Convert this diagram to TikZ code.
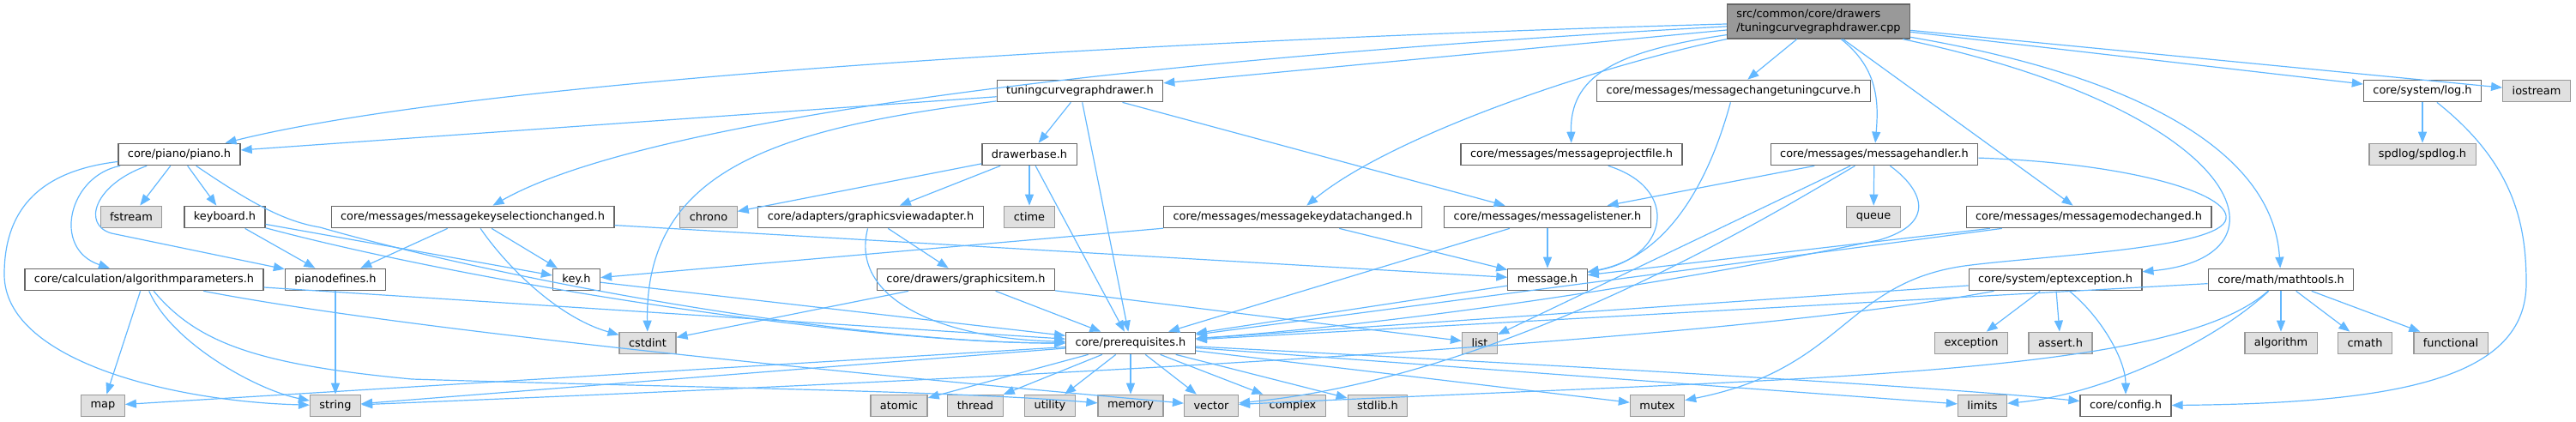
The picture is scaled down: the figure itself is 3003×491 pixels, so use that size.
\documentclass[tikz,border=0pt]{standalone}
\usepackage{fontspec}
\setmainfont{DejaVu Sans}
\usetikzlibrary{graphs, arrows.meta}
\definecolor{edgeblue}{HTML}{63B8FF}
\definecolor{boxgrey}{HTML}{E0E0E0}
\definecolor{darkline}{HTML}{666666}
\definecolor{lightline}{HTML}{999999}

\begin{document}
\begin{tikzpicture}[x=1pt, y=-1pt,
    font=\fontsize{12.9}{15.5}\selectfont,
    >={Triangle[length=13pt, width=10pt]},
    file/.style={draw=darkline, fill=white, line width=1.2pt, inner xsep=11pt, inner ysep=0pt, minimum height=25.5pt},
    sys/.style={file, draw=lightline, fill=boxgrey},
    root/.style={file, fill=lightline, align=left, minimum height=40pt},
    dep/.style={draw=edgeblue, line width=1.2pt, ->}]
\useasboundingbox (0,0) rectangle (3003,491);

\node[root] (main) at (2120,25) {src/common/core/drawers\\/tuningcurvegraphdrawer.cpp};

% first row
\node[file] (tcgdh) at (1259,106) {tuningcurvegraphdrawer.h};
\node[file] (mctc) at (2021,106) {core/messages/messagechangetuningcurve.h};
\node[file] (logh) at (2824,106) {core/system/log.h};
\node[sys] (iostream) at (2957,106) {iostream};

\node[file] (pianoh) at (209,180) {core/piano/piano.h};
\node[file] (drawerbase) at (1200,180) {drawerbase.h};
\node[file] (projfile) at (1832,180) {core/messages/messageprojectfile.h};
\node[file] (handler) at (2185,180) {core/messages/messagehandler.h};
\node[sys] (spdlog) at (2824,180) {spdlog/spdlog.h};

\node[sys] (fstream) at (153,253) {fstream};
\node[file] (keyboard) at (262,253) {keyboard.h};
\node[file] (keysel) at (551,253) {core/messages/messagekeyselectionchanged.h};
\node[sys] (chrono) at (826,253) {chrono};
\node[file] (gva) at (1015,253) {core/adapters/graphicsviewadapter.h};
\node[sys] (ctime) at (1200,253) {ctime};
\node[file] (keydata) at (1507,253) {core/messages/messagekeydatachanged.h};
\node[file] (listener) at (1804,253) {core/messages/messagelistener.h};
\node[sys] (queue) at (2184,253) {queue};
\node[file] (modech) at (2435,253) {core/messages/messagemodechanged.h};

\node[file] (algpar) at (168,326) {core/calculation/algorithmparameters.h};
\node[file] (pdef) at (391,326) {pianodefines.h};
\node[file] (keyh) at (672,326) {key.h};
\node[file] (gitem) at (1126,326) {core/drawers/graphicsitem.h};
\node[file] (msg) at (1804,326) {message.h};
\node[file] (eptexc) at (2396,326) {core/system/eptexception.h};
\node[file] (mtools) at (2659,326) {core/math/mathtools.h};

\node[sys] (cstdint) at (755,400) {cstdint};
\node[file] (prereq) at (1318,400) {core/prerequisites.h};
\node[sys] (list) at (1725,400) {list};
\node[sys] (exception) at (2298,400) {exception};
\node[sys] (asserth) at (2402,400) {assert.h};
\node[sys] (algorithm) at (2659,400) {algorithm};
\node[sys] (cmath) at (2757,400) {cmath};
\node[sys] (functional) at (2857,400) {functional};

% system headers, bottom row
\node[sys] (map) at (120,473) {map};
\node[sys] (string) at (391,473) {string};
\node[sys] (atomic) at (1048,473) {atomic};
\node[sys] (thread) at (1137,473) {thread};
\node[sys] (utility) at (1224,473) {utility};
\node[sys] (memory) at (1318,473) {memory};
\node[sys] (vector) at (1412,473) {vector};
\node[sys] (complex) at (1507,473) {complex};
\node[sys] (stdlib) at (1606,473) {stdlib.h};
\node[sys] (mutex) at (1932,473) {mutex};
\node[sys] (limits) at (2311,473) {limits};
\node[file] (config) at (2478,473) {core/config.h};

\graph[use existing nodes, edges=dep] {
  main -> {tcgdh, mctc, logh, iostream, modech};
  tcgdh -> {pianoh, drawerbase, prereq, listener};
  drawerbase -> {chrono, gva, ctime, prereq};
  gva -> gitem;
  gitem -> {prereq, cstdint, list};
  pianoh -> {fstream, keyboard};
  keyboard -> {pdef, keyh};
  keysel -> {msg, pdef, keyh};
  keydata -> {msg, keyh};
  listener -> {msg, prereq};
  msg -> prereq;
  handler -> {listener, list, queue};
  modech -> {msg, prereq};
  eptexc -> {exception, asserth, prereq};
  mtools -> {algorithm, cmath, functional, prereq};
  logh -> spdlog;
  keyh -> prereq;
  pdef -> string;
  algpar -> {map, prereq};
  prereq -> {atomic, thread, utility, memory, vector, complex, stdlib, mutex, limits, string, map};
};

% curved includes
\draw[dep] (main) .. controls (1300,48) and (550,95) .. (pianoh);
\draw[dep] (main) .. controls (1300,70) and (750,140) .. (keysel);
\draw[dep] (main.south west) .. controls (1850,80) and (1620,160) .. (keydata);
\draw[dep] (main) .. controls (1880,60) and (1830,90) .. (projfile);
\draw[dep] (main) .. controls (2190,80) and (2190,120) .. (handler);
\draw[dep] (main) .. controls (2620,130) and (2680,300) .. (eptexc);
\draw[dep] (main) .. controls (2500,90) and (2650,180) .. (mtools);
\draw[dep] (tcgdh) .. controls (900,150) and (752,200) .. (cstdint);
\draw[dep] (gva) .. controls (990,350) and (1100,395) .. (prereq);
\draw[dep] (pianoh) .. controls (80,205) and (60,290) .. (algpar);
\draw[dep] (pianoh) .. controls (40,200) and (5,250) .. (5,320) .. controls (5,420) and (200,468) .. (string);
\draw[dep] (pianoh) .. controls (110,215) and (95,262) .. (130,272) -- (pdef);
\draw[dep] (pianoh) .. controls (290,235) and (330,258) .. (373,265) .. controls (600,330) and (1000,400) .. (prereq);
\draw[dep] (keyboard) .. controls (550,330) and (1000,400) .. (prereq);
\draw[dep] (keysel) .. controls (590,310) and (650,370) .. (cstdint);
\draw[dep] (projfile) .. controls (1960,220) and (1945,300) .. (msg);
\draw[dep] (mctc) .. controls (1990,220) and (1940,300) .. (msg);
\draw[dep] (handler) .. controls (2480,190) and (2600,225) .. (2595,255) .. controls (2590,290) and (2380,298) .. (2290,310) .. controls (2150,330) and (2150,430) .. (mutex);
\draw[dep] (handler) .. controls (2240,220) and (2260,260) .. (2190,280) .. controls (1900,340) and (1600,380) .. (prereq);
\draw[dep] (handler) .. controls (2050,260) and (1750,440) .. (vector);
\draw[dep] (mtools) .. controls (2530,440) and (2100,440) .. (vector);
\draw[dep] (mtools) .. controls (2580,400) and (2450,460) .. (limits);
\draw[dep] (eptexc) .. controls (2450,370) and (2478,420) .. (config);
\draw[dep] (eptexc) .. controls (2000,400) and (1200,440) .. (string);
\draw[dep] (logh) .. controls (2930,190) and (2945,260) .. (2945,330) .. controls (2945,440) and (2800,470) .. (config);
\draw[dep] (algpar) .. controls (200,400) and (300,455) .. (string);
\draw[dep] (algpar) .. controls (230,400) and (300,425) .. (480,442) .. controls (800,452) and (1100,455) .. (memory);
\draw[dep] (algpar) .. controls (500,390) and (1100,445) .. (vector);
\draw[dep] (prereq) .. controls (1800,425) and (2250,450) .. (config);
\end{tikzpicture}
\end{document}
